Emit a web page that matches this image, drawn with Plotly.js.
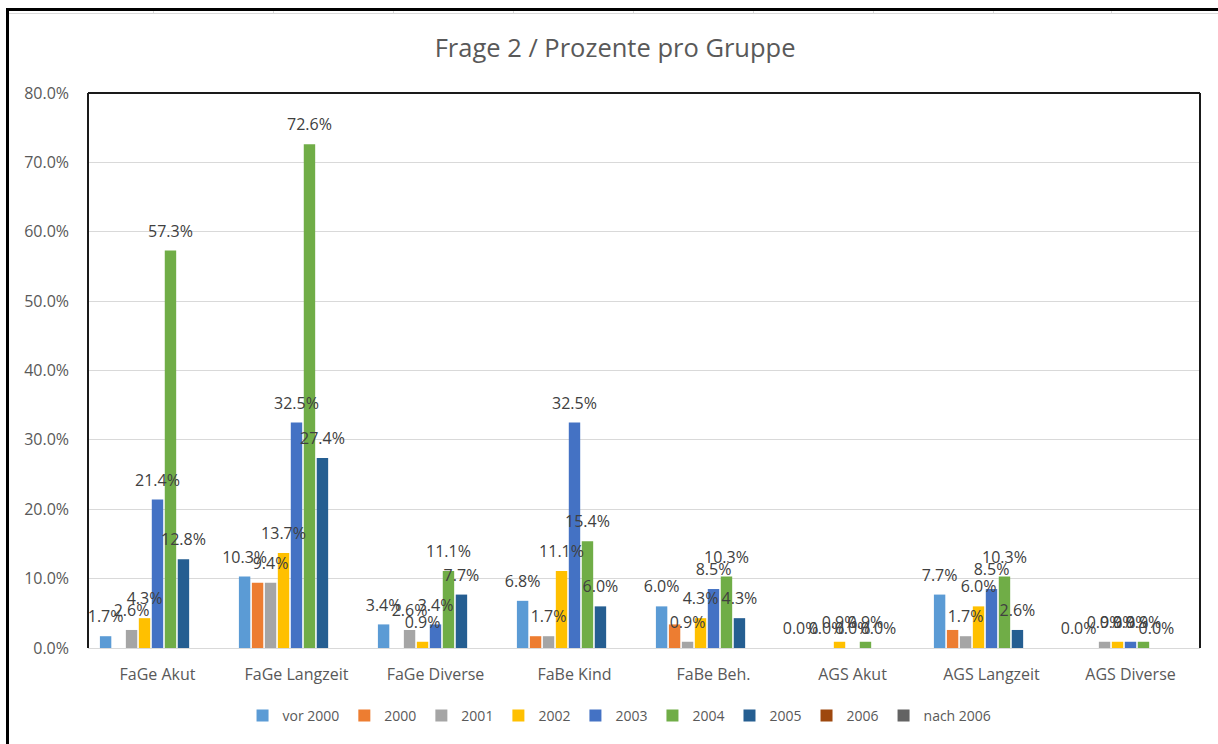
<!DOCTYPE html>
<html>
<head>
<meta charset="utf-8">
<script src="https://cdn.plot.ly/plotly-3.0.1.min.js"></script>
<style>
  html, body { margin: 0; padding: 0; background: #ffffff; }
  #wrap { position: relative; width: 1218px; height: 744px; overflow: hidden; }
  #chart { position: absolute; left: 0; top: 0; width: 1218px; height: 744px; }
  .ov { position: absolute; pointer-events: none; }
</style>
</head>
<body>
<div id="wrap">
  <div id="chart"></div>
  <div class="ov" style="left:9px;top:13px;width:1209px;height:1px;background:#d9d9d9;"></div>
  <div class="ov" style="left:153px;top:10px;width:1px;height:4px;background:#d9d9d9;"></div>
  <div class="ov" style="left:273px;top:10px;width:1px;height:4px;background:#d9d9d9;"></div>
  <div class="ov" style="left:393px;top:10px;width:1px;height:4px;background:#d9d9d9;"></div>
  <div class="ov" style="left:513px;top:10px;width:1px;height:4px;background:#d9d9d9;"></div>
  <div class="ov" style="left:633px;top:10px;width:1px;height:4px;background:#d9d9d9;"></div>
  <div class="ov" style="left:753px;top:10px;width:1px;height:4px;background:#d9d9d9;"></div>
  <div class="ov" style="left:873px;top:10px;width:1px;height:4px;background:#d9d9d9;"></div>
  <div class="ov" style="left:993px;top:10px;width:1px;height:4px;background:#d9d9d9;"></div>
  <div class="ov" style="left:1111px;top:10px;width:1px;height:4px;background:#d9d9d9;"></div>
  <div class="ov" style="left:6px;top:8px;width:1212px;height:3px;background:#000000;"></div>
  <div class="ov" style="left:6px;top:8px;width:3px;height:736px;background:#000000;"></div>
</div>
<script>
const categories = ["FaGe Akut", "FaGe Langzeit", "FaGe Diverse", "FaBe Kind", "FaBe Beh.", "AGS Akut", "AGS Langzeit", "AGS Diverse"];
const seriesNames = ["vor 2000", "2000", "2001", "2002", "2003", "2004", "2005", "2006", "nach 2006"];

const vor2000  = [1.7, 10.3, 3.4, 6.8, 6.0, 0.0, 7.7, 0.0];
const y2000    = [null, 9.4, null, 1.7, 3.4, 0.0, 2.6, null];
const y2001    = [2.6, 9.4, 2.6, 1.7, 0.9, 0.0, 1.7, 0.9];
const y2002    = [4.3, 13.7, 0.9, 11.1, 4.3, 0.9, 6.0, 0.9];
const y2003    = [21.4, 32.5, 3.4, 32.5, 8.5, 0.0, 8.5, 0.9];
const y2004    = [57.3, 72.6, 11.1, 15.4, 10.3, 0.9, 10.3, 0.9];
const y2005    = [12.8, 27.4, 7.7, 6.0, 4.3, 0.0, 2.6, 0.0];
const y2006    = [null, null, null, null, null, null, null, null];
const nach2006 = [null, null, null, null, null, null, null, null];

// which series carry data labels in the reference (the "2000" series has none)
const seriesHasLabels = [true, false, true, true, true, true, true, true, true];

const yTickVals = [0, 10, 20, 30, 40, 50, 60, 70, 80];
const yTickLabels = ["0.0%", "10.0%", "20.0%", "30.0%", "40.0%", "50.0%", "60.0%", "70.0%", "80.0%"];

const seriesValues = [vor2000, y2000, y2001, y2002, y2003, y2004, y2005, y2006, nach2006];
const colors = ["#5B9BD5", "#ED7D31", "#A5A5A5", "#FFC000", "#4472C4", "#70AD47", "#255E91", "#9E480E", "#636363"];

const FONT = "Open Sans, Liberation Sans, sans-serif";

// visible bars (no text)
const barTraces = seriesNames.map((name, i) => ({
  type: "bar",
  name: name,
  x: categories,
  y: seriesValues[i],
  xaxis: "x",
  yaxis: "y",
  marker: { color: colors[i], line: { width: 0 } },
  hoverinfo: "x+y+name"
}));

// same bars on an overlaid axis pair, transparent, carrying the data labels on top of all bars
const labelTraces = seriesNames.map((name, i) => ({
  type: "bar",
  name: name + " label",
  x: categories,
  y: seriesValues[i],
  xaxis: "x2",
  yaxis: "y2",
  showlegend: false,
  marker: { color: "rgba(0,0,0,0)", line: { width: 0 } },
  texttemplate: seriesHasLabels[i] ? "%{y:.1f}%" : "",
  textposition: "outside",
  constraintext: "none",
  cliponaxis: false,
  outsidetextfont: { family: FONT, size: 16, color: "#404040" },
  hoverinfo: "skip"
}));

const layout = {
  width: 1218,
  height: 744,
  paper_bgcolor: "#ffffff",
  plot_bgcolor: "#ffffff",
  margin: { l: 88, r: 18, t: 93, b: 96 },
  font: { family: FONT, color: "#595959", size: 16 },
  title: {
    text: "Frage 2 / Prozente pro Gruppe",
    font: { family: FONT, size: 25.5, color: "#595959" },
    x: 0.505, xref: "container", xanchor: "center",
    y: 1 - 48 / 744, yref: "container", yanchor: "middle"
  },
  barmode: "group",
  bargap: 0.16,
  bargroupgap: 0.12,
  xaxis: {
    type: "category",
    showgrid: false,
    showline: true,
    linecolor: "#d9d9d9",
    linewidth: 1,
    ticks: "",
    ticklabelstandoff: 12,
    tickfont: { family: FONT, size: 16, color: "#595959" },
    zeroline: false
  },
  yaxis: {
    range: [0, 80],
    tickmode: "array",
    tickvals: yTickVals,
    ticktext: yTickLabels,
    showgrid: true,
    gridcolor: "#d9d9d9",
    gridwidth: 1,
    zeroline: false,
    showline: false,
    ticks: "",
    ticklabelstandoff: 18,
    tickfont: { family: FONT, size: 16, color: "#595959" }
  },
  xaxis2: {
    type: "category",
    overlaying: "x",
    matches: "x",
    visible: false,
    showgrid: false,
    zeroline: false
  },
  yaxis2: {
    overlaying: "y",
    range: [-0.85, 79.15],
    visible: false,
    showgrid: false,
    zeroline: false
  },
  showlegend: true,
  legend: {
    orientation: "h",
    x: 0.478, xanchor: "center",
    y: (648 - 716) / 555, yanchor: "middle",
    font: { family: FONT, size: 14, color: "#595959" },
    itemwidth: 30,
    traceorder: "normal",
    itemclick: false
  },
  shapes: [
    { type: "line", xref: "paper", yref: "paper", x0: 0, x1: 0, y0: 0, y1: 1, line: { color: "#1a1a1a", width: 2 } },
    { type: "line", xref: "paper", yref: "paper", x0: 0, x1: 1, y0: 1, y1: 1, line: { color: "#1a1a1a", width: 2 } },
    { type: "line", xref: "paper", yref: "paper", x0: 1, x1: 1, y0: 0, y1: 1, line: { color: "#1a1a1a", width: 2 } }
  ]
};

Plotly.newPlot("chart", barTraces.concat(labelTraces), layout, { displayModeBar: false, staticPlot: true });
</script>
</body>
</html>
